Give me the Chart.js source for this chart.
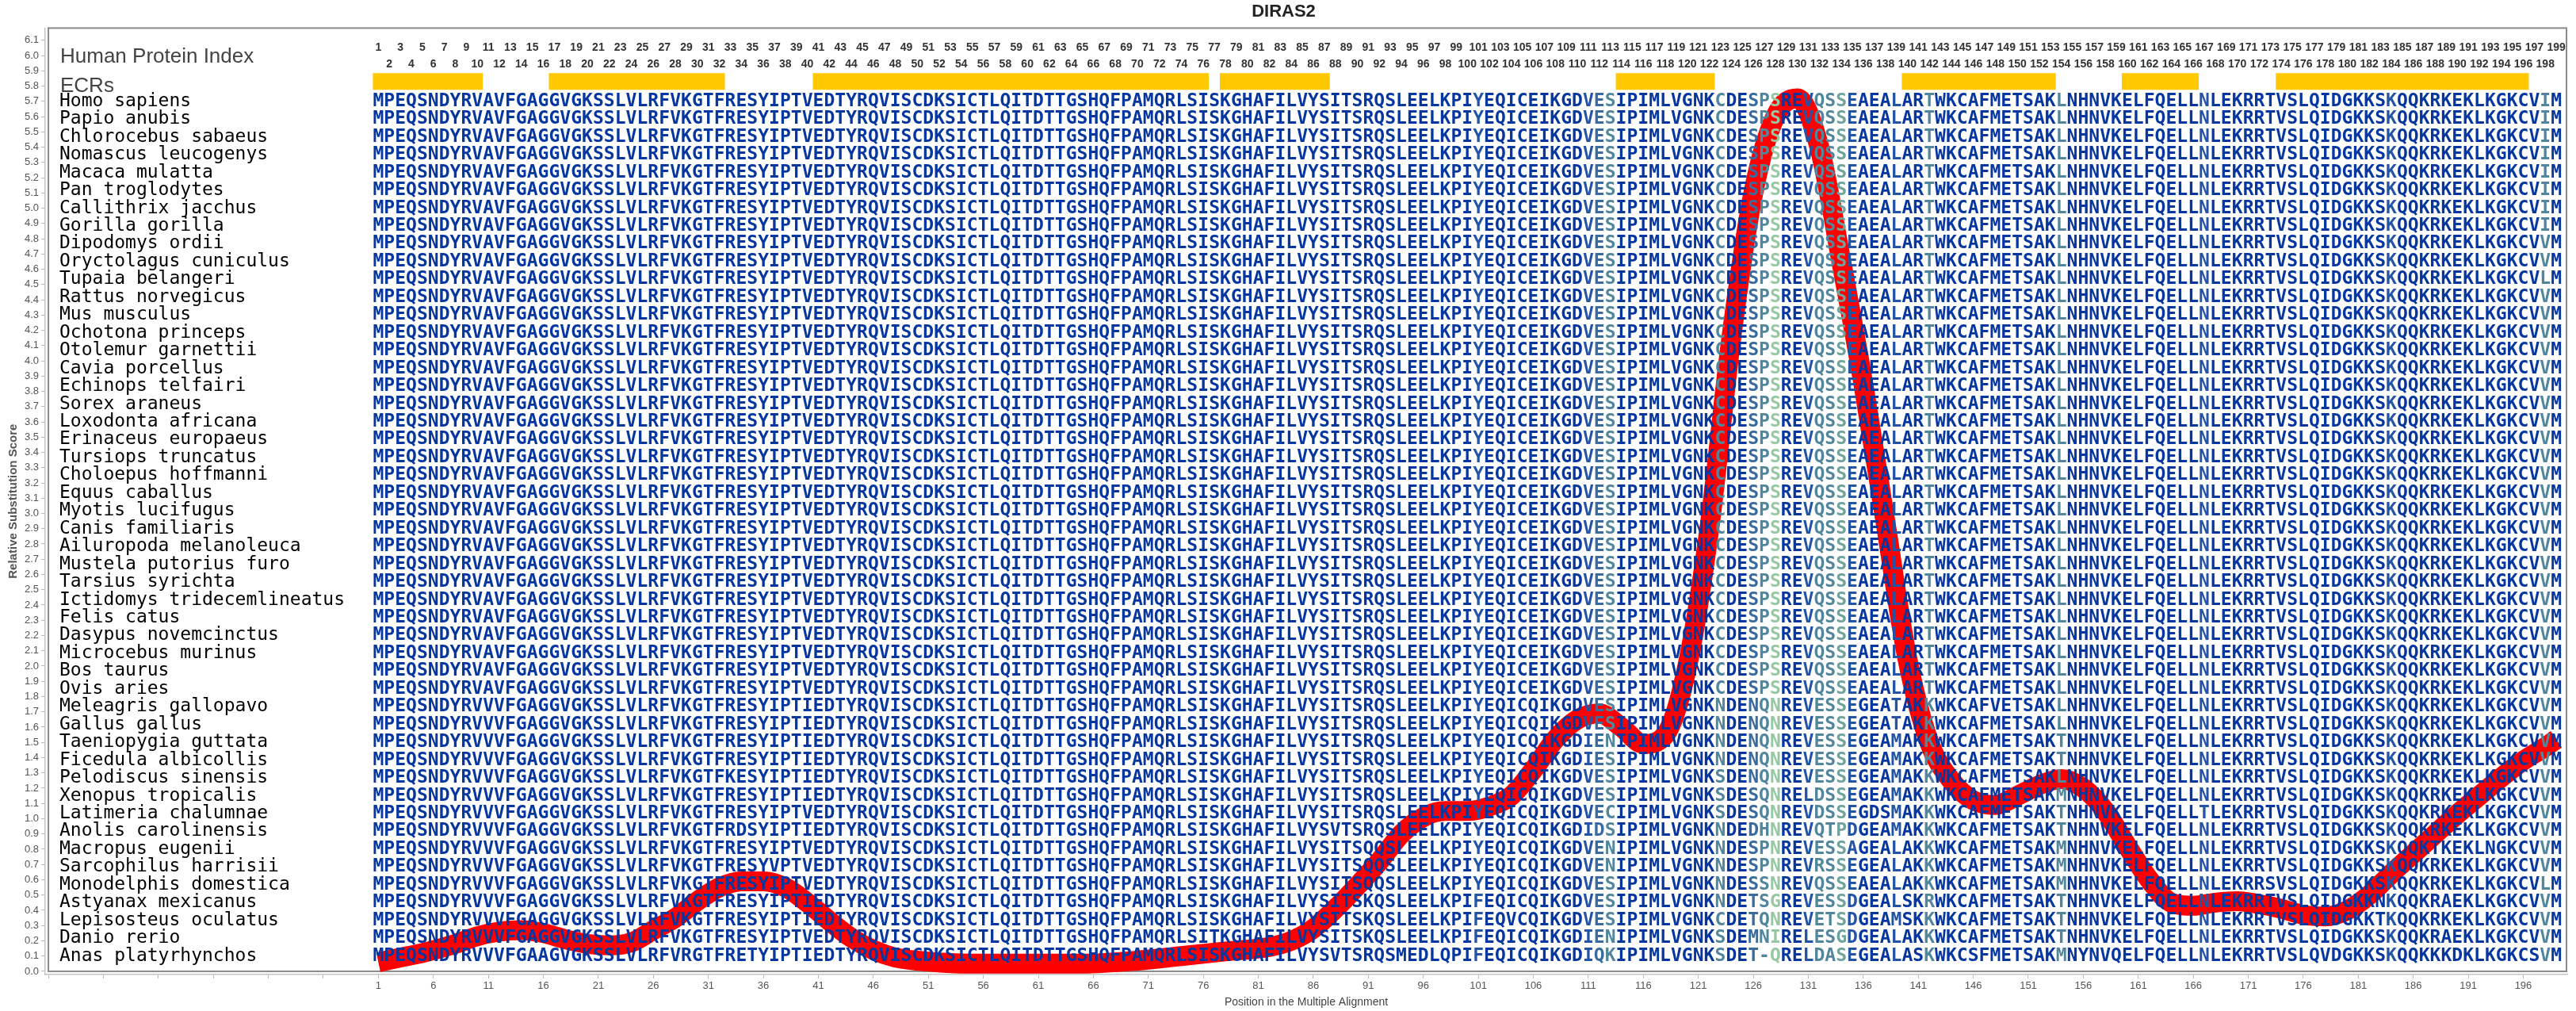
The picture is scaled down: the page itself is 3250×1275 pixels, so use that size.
<!DOCTYPE html>
<html>
<head>
<meta charset="utf-8">
<script src="https://cdn.jsdelivr.net/npm/chart.js@4.4.0/dist/chart.umd.min.js"></script>
<style>body{margin:0;background:#fff}</style>
</head>
<body>
<canvas id="myChart" width="3250" height="1275"></canvas>
<script>
var species = ['Homo sapiens','Papio anubis','Chlorocebus sabaeus','Nomascus leucogenys','Macaca mulatta','Pan troglodytes',
  'Callithrix jacchus','Gorilla gorilla','Dipodomys ordii','Oryctolagus cuniculus','Tupaia belangeri','Rattus norvegicus',
  'Mus musculus','Ochotona princeps','Otolemur garnettii','Cavia porcellus','Echinops telfairi','Sorex araneus',
  'Loxodonta africana','Erinaceus europaeus','Tursiops truncatus','Choloepus hoffmanni','Equus caballus','Myotis lucifugus',
  'Canis familiaris','Ailuropoda melanoleuca','Mustela putorius furo','Tarsius syrichta','Ictidomys tridecemlineatus',
  'Felis catus','Dasypus novemcinctus','Microcebus murinus','Bos taurus','Ovis aries','Meleagris gallopavo','Gallus gallus',
  'Taeniopygia guttata','Ficedula albicollis','Pelodiscus sinensis','Xenopus tropicalis','Latimeria chalumnae',
  'Anolis carolinensis','Macropus eugenii','Sarcophilus harrisii','Monodelphis domestica','Astyanax mexicanus',
  'Lepisosteus oculatus','Danio rerio','Anas platyrhynchos'];

var humanSeq = 'MPEQSNDYRVAVFGAGGVGKSSLVLRFVKGTFRESYIPTVEDTYRQVISC' + 'DKSICTLQITDTTGSHQFPAMQRLSISKGHAFILVYSITSRQSLEELKPI' +
  'YEQICEIKGDVESIPIMLVGNKCDESPSREVQSSEAEALARTWKCAFMET' + 'SAKLNHNVKELFQELLNLEKRRTVSLQIDGKKSKQQKRKEKLKGKCVIM';
var humanSeqVV = humanSeq.slice(0, 197) + 'VM';
var humanSeqVL = humanSeq.slice(0, 197) + 'LM';

var sequences = [
  humanSeq, humanSeq, humanSeq, humanSeq, humanSeq, humanSeq, humanSeq, humanSeq,
  humanSeqVV, humanSeqVV, humanSeqVL, humanSeqVV, humanSeqVV,
  humanSeqVV, humanSeqVV, humanSeqVV, humanSeqVV, humanSeqVV, humanSeqVV, humanSeqVV, humanSeqVV,
  humanSeqVV, humanSeqVV, humanSeqVV, humanSeqVV, humanSeqVV, humanSeqVV, humanSeqVV, humanSeqVV,
  humanSeqVV, humanSeqVV, humanSeqVV, humanSeqVV, humanSeqVV,
  'MPEQSNDYRVVVFGAGGVGKSSLVLRFVKGTFRESYIPTIEDTYRQVISC' + 'DKSICTLQITDTTGSHQFPAMQRLSISKGHAFILVYSITSRQSLEELKPI' + 'YEQICQIKGDVESIPIMLVGNKNDENQNREVESSEGEATAKKWKCAFVET' + 'SAKLNHNVKELFQELLNLEKRRTVSLQIDGKKSKQQKRKEKLKGKCVVM',
  'MPEQSNDYRVVVFGAGGVGKSSLVLRFVKGTFRESYIPTIEDTYRQVISC' + 'DKSICTLQITDTTGSHQFPAMQRLSISKGHAFILVYSITSRQSLEELKPI' + 'YEQICQIKGDVESIPIMLVGNKNDENQNREVESSEGEATAKKWKCAFMET' + 'SAKLNHNVKELFQELLNLEKRRTVSLQIDGKKSKQQKRKEKLKGKCVVM',
  'MPEQSNDYRVVVFGAGGVGKSSLVLRFVKGTFRESYIPTIEDTYRQVISC' + 'DKSICTLQITDTTGSHQFPAMQRLSISKGHAFILVYSITSRQSLEELKPI' + 'YEQICQIKGDIENIPIMLVGNKNDENQNREVESSEGEAMAKKWKCAFMET' + 'SAKTNHNVKELFQELLNLEKRRTVSLQIDGKKSKQQKRKEKLKGKCVVM',
  'MPEQSNDYRVVVFGAGGVGKSSLVLRFVKGTFRESYIPTIEDTYRQVISC' + 'DKSICTLQITDTTGSHQFPAMQRLSISKGHAFILVYSITSRQSLEELKPI' + 'YEQICQIKGDIESIPIMLVGNKNDENQNREVESSEGEAMAKKWKCAFMET' + 'SAKTNHNVKELFQELLNLEKRRTVSLQIDGKKSKQQKRKEKLKGKCVVM',
  'MPEQSNDYRVVVFGAGGVGKSSLVLRFVKGTFKESYIPTIEDTYRQVISC' + 'DKSICTLQITDTTGSHQFPAMQRLSISKGHAFILVYSITSRQSLEELKPI' + 'YEQICQIKGDVESIPIMLVGNKSDENQNREVESSEGEAMAKKWKCAFMET' + 'SAKLNHNVKELFQELLNLEKRRTVSLQIDGKKSKQQKRKEKLKGKCVVM',
  'MPEQSNDYRVVVFGAGGVGKSSLVLRFVKGTFRESYIPTIEDTYRQVISC' + 'DKSICTLQITDTTGSHQFPAMQRLSISKGHAFILVYSITSRQSLEELKPI' + 'YEQICQIKGDVESIPIMLVGNKSDESQNRELDSSEGEAMAKKWKCAFMET' + 'SAKMNHNVKELFQELLNLEKRRTVSLQIDGKKSKQQKRKEKLKGKCVVM',
  'MPEQSNDYRVVVFGAGGVGKSSLVLRFVKGTFRESYIPTVEDTYRQVISC' + 'DKSICTLQITDTTGSHQFPAMQRLSISKGHAFILVYSITSRQSLEELKPI' + 'YEQICQIKGDVECIPIMLVGNKSDESQNREVDSSEGDSMAKKWKCAFMET' + 'SAKTNHNVKELFQELLTLEKRRTVSLQIDGKKSKQQKRKEKLKGKCVVM',
  'MPEQSNDYRVVVFGAGGVGKSSLVLRFVKGTFRDSYIPTIEDTYRQVISC' + 'DKSICTLQITDTTGSHQFPAMQRLSISKGHAFILVYSVTSRQSLEELKPI' + 'YEQICQIKGDIDSIPIMLVGNKNDEDHNREVQTPDGEAMAKKWKCAFMET' + 'SAKTNHNVKELFQELLNLEKRRTVSLQIDGKKSKQQKRKEKLKGKCVVM',
  'MPEQSNDYRVVVFGAGGVGKSSLVLRFVKGTFRESYIPTVEDTYRQVISC' + 'DKSICTLQITDTTGSHQFPAMQRLSISKGHAFILVYSITSQQSLEELKPI' + 'YEQICQIKGDVENIPIMLVGNKNDESPNREVESSAGEALAKKWKCAFMET' + 'SAKMNHNVKELFQELLNLEKRRTVSLQIDGKKSKQQKTKEKLNGKCVVM',
  'MPEQSNDYRVVVFGAGGVGKSSLVLRFVKGTFRESYVPTVEDTYRQVISC' + 'DKSICTLQITDTTGSHQFPAMQRLSISKGHAFILVYSITSQQSLEELKPI' + 'YEQICQIKGDVENIPIMLVGNKNDESPNREVRSSEGEALAKKWKCAFMET' + 'SAKMNHNVKELFQELLNLEKRRTVSLQIDGKKSKQQKRKEKLKGKCVVM',
  'MPEQSNDYRVVVFGAGGVGKSSLVLRFVKGTFRESYIPTVEDTYRQVISC' + 'DKSICTLQITDTTGSHQFPAMQRLSISKGHAFILVYSITSQQSLEELKPI' + 'YEQICQIKGDVESIPIMLVGNKNDESSNREVQSSEAEALAKKWKCAFMET' + 'SAKMNHNVKELFQELLNLEKRRSVSLQIDGKKSKQQKRKEKLKGKCVLM',
  'MPEQSNDYRVVVFGAGGVGKSSLVLRFVKGTFRESYIPTIEDTYRQVISC' + 'DKSICTLQITDTTGSHQFPAMQRLSISKGHAFILVYSITSKQSLEELKPI' + 'FEQICQIKGDVESIPIMLVGNKNDETSGREVESSDGEALSKRWKCAFMET' + 'SAKTNHNVKELFQELLNLEKRRTVSLQIDGKKNKQQKRAEKLKGKCVVM',
  'MPEQSNDYRVVVFGAGGVGKSSLVLRFVKGTFRESYIPTIEDTYRQVISC' + 'DKSICTLQITDTTGSHQFPAMQRLSISKGHAFILVYSITSKQSLEELKPI' + 'FEQVCQIKGDVESIPIMLVGNKCDETQNREVETSDGEAMSKKWKCAFMET' + 'SAKTNHNVKELFQELLNLEKRRTVSLQIDGKKTKQQKRKEKLKGKCVVM',
  'MPEQSNDYRVVVFGAGGVGKSSLVLRFVKGTFRESYIPTVEDTYRQVISC' + 'DKSICTLQITDTTGSHQFPAMQRLSITKGHAFILVYSITSKQSLEELKPI' + 'FEQICQIKGDIENIPIMLVGNKSDEMNIRELESGDGEALAKKWKCAFMET' + 'SAKTNHNVKELFQELLNLEKRRTVSLQIDGKKSKQQKRAEKLKGKCVVM',
  'MPEQSNDYRVVVFGAAGVGKSSLVLRFVRGTFRETYIPTIEDTYRQVISC' + 'DKSICTLQITDTTGSHQFPAMQRLSISKGHAFILVYSVTSRQSMEDLQPI' + 'FEQICQIKGDIQKIPIMLVGNKSDET-QRELDASEGEALASKWKCSFMET' + 'SAKMNYNVQELFQELLNLEKRRTVSLQVDGKKSKQQKKKDKLKGKCSVM'
];

// ECR blocks (alignment positions)
var ecrStart = [1, 17, 41, 78, 114, 140, 160, 174];
var ecrEnd = [10, 32, 76, 87, 122, 153, 166, 196];

// relative substitution score curve
var positions = [1,3,5,8,10,12,14,16,18,20,22,24,26,28,30,32,34,36,38,40,42,44,46,48,50,55,60,65,70,74,78,82,84,86,88,90,92,94,96,98,
  100,102,104,106,108,110,112,114,116,118,120,122,124,126,128,130,132,134,136,138,140,142,144,146,148,150,152,154,156,158,
  160,162,164,166,168,170,172,174,176,178,180,182,184,186,188,190,192,194,196,198,199];
var scores = [0.06,0.09,0.12,0.18,0.23,0.26,0.27,0.25,0.21,0.18,0.17,0.19,0.27,0.35,0.46,0.55,0.59,0.59,0.55,0.45,0.33,0.22,0.14,0.09,0.07,
  0.05,0.05,0.05,0.07,0.10,0.13,0.16,0.20,0.28,0.41,0.56,0.72,0.90,1.01,1.05,1.05,1.08,1.15,1.32,1.52,1.65,1.69,1.60,1.49,1.55,
  2.0,2.9,4.15,5.1,5.6,5.72,5.4,4.65,3.85,2.95,2.05,1.5,1.25,1.12,1.09,1.15,1.22,1.26,1.2,1.05,0.82,0.6,0.45,0.43,0.45,
  0.46,0.44,0.41,0.37,0.36,0.40,0.50,0.64,0.77,0.9,1.03,1.15,1.27,1.38,1.47,1.52];

// column shading of the alignment letters (level per position)
var columnShade = {101:1, 111:1, 112:2, 113:3, 123:3, 126:2, 127:3, 128:5, 131:1, 132:3, 133:3, 134:4, 135:1, 139:1, 142:3, 154:3, 167:1, 184:1, 198:3};
var shadeColors = ['#0637a0', '#2454a6', '#3a6b9f', '#52869c', '#6fa39e', '#98c7a3'];

Chart.defaults.font.family = '"Liberation Sans", Arial, sans-serif';

function rowValue(i) { return 5.7 - i * 5.6 / 48; }

var datasets = [{
  label: 'Relative substitution score',
  data: positions.map(function (p, i) { return {x: p, y: scores[i]}; }),
  borderColor: '#ff0000',
  borderWidth: 25,
  pointRadius: 0,
  cubicInterpolationMode: 'monotone',
  borderCapStyle: 'butt',
  borderJoinStyle: 'round',
  fill: false,
  order: 1
}];
ecrStart.forEach(function (s, i) {
  datasets.push({
    label: 'ECR ' + (i + 1),
    data: [{x: s - 0.5, y: 5.83}, {x: ecrEnd[i] + 0.5, y: 5.83}],
    borderColor: '#ffc800',
    borderWidth: 21,
    borderCapStyle: 'butt',
    pointRadius: 0,
    fill: false,
    order: 2
  });
});

const alignmentText = {
  id: 'alignmentText',
  beforeDatasetsDraw(chart) {
    const ctx = chart.ctx, x = chart.scales.x, y = chart.scales.y, a = chart.chartArea;
    ctx.save();
    ctx.strokeStyle = '#8a8a8a';
    ctx.lineWidth = 2;
    var left = x.getPixelForValue(-29), bottom = y.getPixelForValue(0);
    ctx.strokeRect(left, a.top, a.right - left - 1, bottom - a.top);
    ctx.restore();
  },
  afterDatasetsDraw(chart) {
    const ctx = chart.ctx, x = chart.scales.x, y = chart.scales.y;
    ctx.save();
    ctx.textBaseline = 'middle';
    ctx.textAlign = 'left';
    ctx.fillStyle = '#444';
    ctx.font = '26px "Liberation Sans"';
    ctx.fillText('Human Protein Index', 76, y.getPixelForValue(5.99));
    ctx.fillText('ECRs', 76, y.getPixelForValue(5.80));

    ctx.textAlign = 'center';
    ctx.fillStyle = '#333';
    ctx.font = 'bold 14px "Liberation Sans"';
    for (var n = 1; n <= 199; n++) {
      ctx.fillText(String(n), x.getPixelForValue(n), y.getPixelForValue(n % 2 ? 6.05 : 5.94));
    }

    ctx.textAlign = 'left';
    ctx.fillStyle = '#000';
    ctx.font = '23px "DejaVu Sans Mono"';
    species.forEach(function (name, i) {
      ctx.fillText(name, 75, y.getPixelForValue(rowValue(i)));
    });

    ctx.textAlign = 'center';
    ctx.font = 'bold 23px "DejaVu Sans Mono"';
    sequences.forEach(function (seq, i) {
      var py = y.getPixelForValue(rowValue(i));
      for (var k = 0; k < seq.length; k++) {
        ctx.fillStyle = shadeColors[columnShade[k + 1] || 0];
        ctx.fillText(seq[k], x.getPixelForValue(k + 1), py);
      }
    });
    ctx.restore();
  }
};

var yTicks = [];
for (var t = 0; t <= 61; t++) yTicks.push(t / 10);
var xTicks = [];
for (var v = -29; v <= 196; v += 5) xTicks.push(v);

const myChart = new Chart(document.getElementById('myChart'), {
  type: 'line',
  data: {datasets: datasets},
  options: {
    responsive: false,
    animation: false,
    devicePixelRatio: 1,
    layout: {padding: {left: 0, right: 11, top: 0, bottom: 0}},
    plugins: {
      legend: {display: false},
      tooltip: {enabled: false},
      title: {
        display: true,
        text: 'DIRAS2',
        color: '#222',
        font: {size: 22, weight: 'bold'},
        padding: {top: 2, bottom: 7}
      }
    },
    scales: {
      x: {
        type: 'linear',
        min: -29.29,
        max: 200,
        afterFit: function (s) { s.height = 46; },
        afterBuildTicks: function (s) { s.ticks = xTicks.map(function (v) { return {value: v}; }); },
        ticks: {
          autoSkip: false,
          maxRotation: 0,
          color: '#555',
          font: {size: 13},
          padding: 2,
          callback: function (v) { return v >= 1 ? String(v) : ''; }
        },
        grid: {drawOnChartArea: false, drawTicks: true, tickLength: 5, color: '#bbb'},
        border: {display: true, color: '#c4c4c4', width: 1.5},
        title: {display: true, text: 'Position in the Multiple Alignment', color: '#444', font: {size: 14}, padding: {top: 0, bottom: 2}}
      },
      y: {
        type: 'linear',
        min: -0.021,
        max: 6.18,
        afterFit: function (s) { s.width = 57; },
        afterBuildTicks: function (s) { s.ticks = yTicks.map(function (v) { return {value: v}; }); },
        ticks: {
          autoSkip: false,
          color: '#555',
          font: {size: 13},
          padding: 3,
          callback: function (v) { return v.toFixed(1); }
        },
        grid: {drawOnChartArea: false, drawTicks: true, tickLength: 5, color: '#bbb'},
        border: {display: true, color: '#c4c4c4', width: 1.5},
        title: {display: true, text: 'Relative Substitution Score', color: '#555', font: {size: 15, weight: 'bold'}, padding: {top: 8, bottom: 2}}
      }
    }
  },
  plugins: [alignmentText]
});
</script>
</body>
</html>
